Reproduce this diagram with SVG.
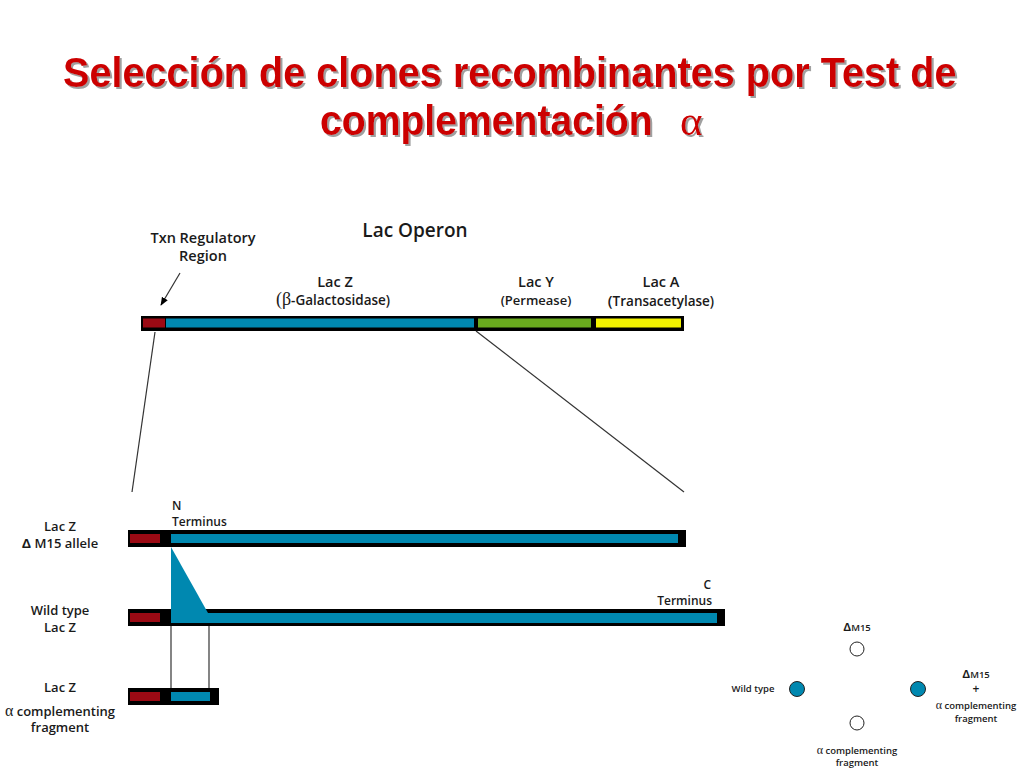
<svg xmlns="http://www.w3.org/2000/svg" width="1024" height="768" viewBox="0 0 1024 768">
<defs>
<style>
.title{font-family:"Liberation Sans",Arial,sans-serif;font-weight:bold;font-size:43px;fill:#CC0000}
.lbl{font-family:"Open Sans","Noto Sans",sans-serif;font-weight:600;fill:#1a1a1a;text-anchor:middle}
.st{text-anchor:start}
.en{text-anchor:end}
.blk{fill:#000}
.red{fill:#9B0A14}
.blue{fill:#0088B0}
.green{fill:#6AAA1E}
.yel{fill:#F2F200}
.ln{stroke:#333;stroke-width:1.2;fill:none}
.ser{font-family:"Liberation Serif",serif;font-weight:normal}
</style>
<filter id="sh" x="-5%" y="-20%" width="110%" height="140%">
<feDropShadow dx="2" dy="2" stdDeviation="0.6" flood-color="#888" flood-opacity="0.8"/>
</filter>
<marker id="ah" viewBox="0 0 10 10" refX="9" refY="5" markerWidth="7" markerHeight="7" orient="auto">
<path d="M0,1 L10,5 L0,9 z" fill="#000"/>
</marker>
</defs>
<rect width="1024" height="768" fill="#fff"/>
<g id="title" filter="url(#sh)">
<g transform="translate(63,87) scale(0.922,1)"><text class="title" x="0" y="0">Selección de clones recombinantes por Test de</text></g>
<g transform="translate(320,135) scale(0.91,1)"><text class="title" x="0" y="0">complementación</text></g>
<text class="title ser" x="680" y="135">α</text>
</g>
<g id="operon">
<text class="lbl" x="415" y="237" font-size="19">Lac Operon</text>
<text class="lbl" x="203" y="243" font-size="14.5">Txn Regulatory</text>
<text class="lbl" x="203" y="261" font-size="14.5">Region</text>
<text class="lbl" x="335" y="287" font-size="14.5">Lac Z</text>
<text class="lbl" x="333" y="305" font-size="13.5"><tspan class="ser" font-size="18">(β</tspan>-Galactosidase)</text>
<text class="lbl" x="536" y="287" font-size="14.5">Lac Y</text>
<text class="lbl" x="536" y="305" font-size="13">(Permease)</text>
<text class="lbl" x="661" y="287" font-size="14.5">Lac A</text>
<text class="lbl" x="661" y="306" font-size="13.5"><tspan font-size="15">(</tspan>Transacetylase)</text>
<rect class="blk" x="141" y="316" width="543" height="15"/>
<rect class="red" x="143" y="318.5" width="22" height="9"/>
<rect class="blue" x="166" y="318.5" width="308" height="9"/>
<rect class="green" x="478" y="318.5" width="113" height="9"/>
<rect class="yel" x="596" y="318.5" width="85" height="9"/>
</g>
<g id="connectors">
<line class="ln" x1="180" y1="273" x2="161" y2="305" marker-end="url(#ah)" stroke="#000"/>
<line class="ln" x1="155" y1="332" x2="132" y2="492"/>
<line class="ln" x1="476" y1="331" x2="684" y2="492"/>
<line class="ln" x1="171" y1="626" x2="171" y2="689"/>
<line class="ln" x1="209" y1="626" x2="209" y2="689"/>
</g>
<g id="row-dm15">
<text class="lbl" x="60" y="531" font-size="13">Lac Z</text>
<text class="lbl" x="60" y="548" font-size="13"><tspan font-family="Liberation Sans,sans-serif" font-weight="bold">Δ</tspan> M15 allele</text>
<text class="lbl st" x="172" y="510" font-size="12">N</text>
<text class="lbl st" x="172" y="526" font-size="12">Terminus</text>
<rect class="blk" x="128" y="530" width="558" height="17"/>
<rect class="red" x="130" y="534" width="30" height="9"/>
<rect class="blue" x="171" y="534" width="507" height="9"/>
</g>
<g id="row-wt">
<text class="lbl" x="60" y="615" font-size="13">Wild type</text>
<text class="lbl" x="60" y="632" font-size="13">Lac Z</text>
<text class="lbl en" x="711" y="589" font-size="12">C</text>
<text class="lbl en" x="712" y="605" font-size="12">Terminus</text>
<rect class="blk" x="128" y="609" width="597" height="17"/>
<rect class="red" x="130" y="613" width="30" height="9"/>
<rect class="blue" x="171" y="613" width="546" height="10"/>
<polygon class="blue" points="171,547 208,613 208,623 171,623"/>
</g>
<g id="row-frag">
<text class="lbl" x="60" y="692" font-size="13">Lac Z</text>
<text class="lbl" x="60" y="716" font-size="13"><tspan class="ser" font-size="16">α</tspan> complementing</text>
<text class="lbl" x="60" y="732" font-size="13">fragment</text>
<rect class="blk" x="128" y="688" width="91" height="17"/>
<rect class="red" x="130" y="692" width="30" height="9"/>
<rect class="blue" x="171" y="692" width="39" height="9"/>
</g>
<g id="plates">
<text class="lbl" x="857" y="631" font-size="9.5"><tspan font-family="Liberation Sans,sans-serif" font-weight="bold" font-size="11">Δ</tspan>M15</text>
<circle cx="857" cy="649" r="7" fill="#fff" stroke="#222" stroke-width="1"/>
<text class="lbl" x="753" y="692" font-size="9.5">Wild type</text>
<circle cx="797" cy="689" r="7.5" fill="#0088B0" stroke="#222" stroke-width="1"/>
<circle cx="918" cy="689" r="7.5" fill="#0088B0" stroke="#222" stroke-width="1"/>
<text class="lbl" x="976" y="678" font-size="9.5"><tspan font-family="Liberation Sans,sans-serif" font-weight="bold" font-size="11">Δ</tspan>M15</text>
<text class="lbl" x="976" y="693" font-size="12">+</text>
<text class="lbl" x="976" y="709" font-size="9.5"><tspan class="ser" font-size="12">α</tspan> complementing</text>
<text class="lbl" x="976" y="722" font-size="9.5">fragment</text>
<circle cx="857" cy="723" r="7" fill="#fff" stroke="#222" stroke-width="1"/>
<text class="lbl" x="857" y="754" font-size="9.5"><tspan class="ser" font-size="12">α</tspan> complementing</text>
<text class="lbl" x="857" y="766" font-size="9.5">fragment</text>
</g>
</svg>
